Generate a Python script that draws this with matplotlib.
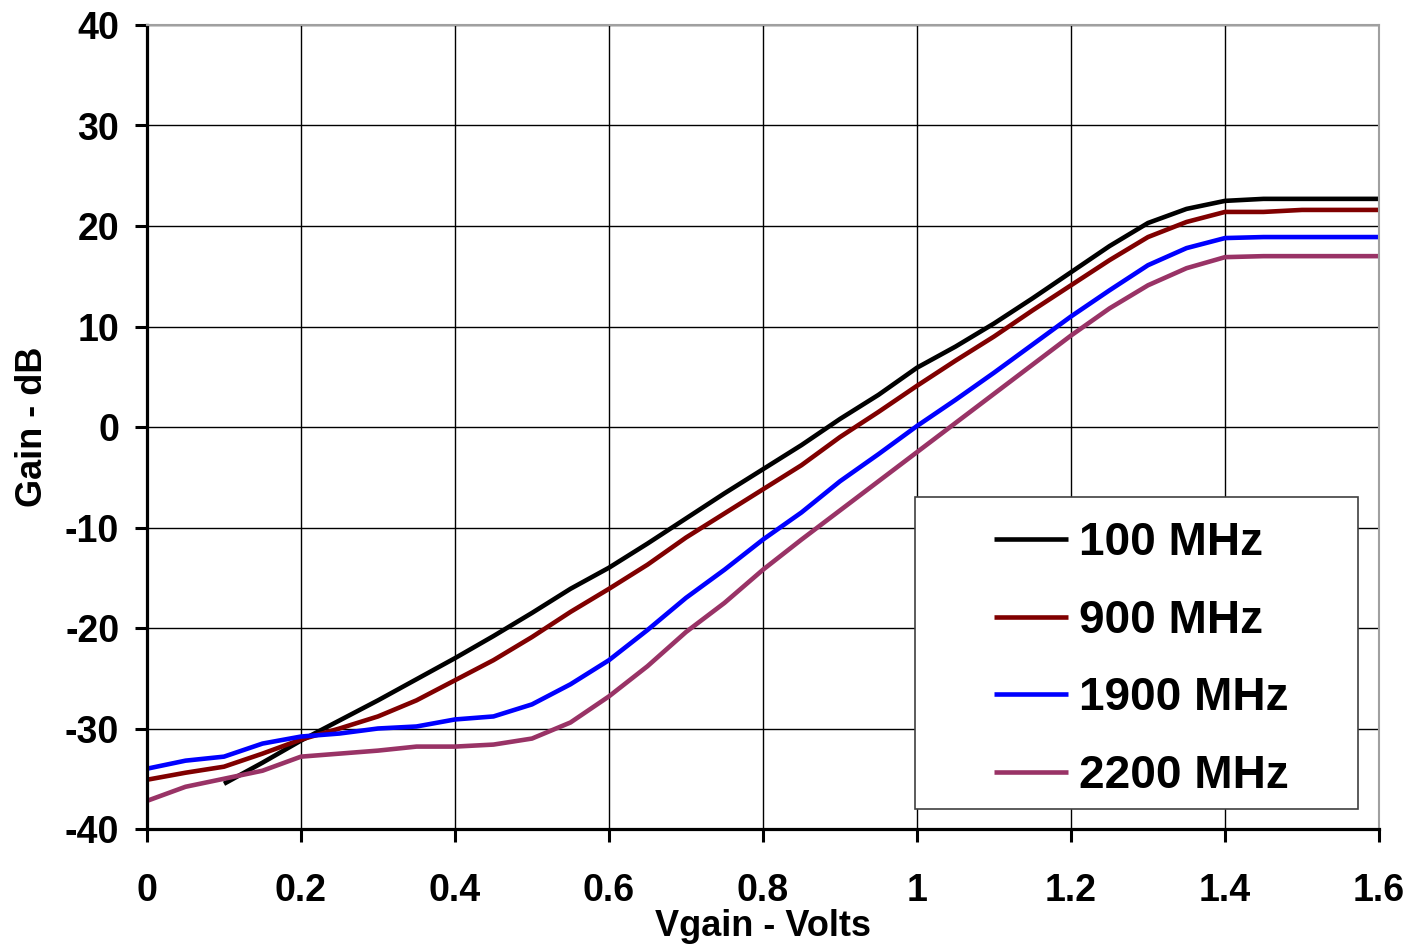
import numpy as np
import matplotlib
matplotlib.use("Agg")
import matplotlib.pyplot as plt
from matplotlib.lines import Line2D
from matplotlib.patches import Rectangle
from matplotlib.legend_handler import HandlerLine2D

plt.rcParams['font.family'] = ['Liberation Sans', 'DejaVu Sans']
plt.rcParams['font.weight'] = 'bold'
plt.rcParams['axes.unicode_minus'] = False

# Vgain (V), sampled every 0.05 V
vgain = [0.0, 0.05, 0.1, 0.15, 0.2, 0.25, 0.3, 0.35, 0.4, 0.45, 0.5, 0.55,
         0.6, 0.65, 0.7, 0.75, 0.8, 0.85, 0.9, 0.95, 1.0, 1.05, 1.1, 1.15,
         1.2, 1.25, 1.3, 1.35, 1.4, 1.45, 1.5, 1.55, 1.6]

# gain in dB (100 MHz curve starts at 0.1 V)
gain_100 = [None, None, -35.5, -33.4, -31.2, -29.2, -27.2, -25.1, -23.0, -20.8,
            -18.5, -16.1, -14.0, -11.6, -9.1, -6.6, -4.2, -1.8, 0.8, 3.2, 5.9,
            8.0, 10.3, 12.8, 15.4, 18.0, 20.3, 21.7, 22.5, 22.7, 22.7, 22.7, 22.7]
gain_900 = [-35.1, -34.4, -33.8, -32.5, -31.1, -30.0, -28.8, -27.2, -25.2, -23.2,
            -20.9, -18.4, -16.1, -13.7, -11.0, -8.6, -6.2, -3.8, -1.0, 1.5, 4.1,
            6.6, 9.0, 11.6, 14.1, 16.6, 18.9, 20.4, 21.4, 21.4, 21.6, 21.6, 21.6]
gain_1900 = [-34.0, -33.2, -32.8, -31.5, -30.8, -30.5, -30.0, -29.8, -29.1, -28.8,
             -27.6, -25.6, -23.2, -20.2, -17.0, -14.2, -11.2, -8.5, -5.4, -2.7, 0.1,
             2.7, 5.4, 8.2, 11.0, 13.6, 16.1, 17.8, 18.8, 18.9, 18.9, 18.9, 18.9]
gain_2200 = [-37.2, -35.8, -35.0, -34.2, -32.8, -32.5, -32.2, -31.8, -31.8, -31.6,
             -31.0, -29.4, -26.8, -23.8, -20.4, -17.5, -14.2, -11.2, -8.3, -5.4, -2.5,
             0.4, 3.3, 6.2, 9.1, 11.8, 14.1, 15.8, 16.9, 17.0, 17.0, 17.0, 17.0]

labels = ['100 MHz', '900 MHz', '1900 MHz', '2200 MHz']
colors = ['#000000', '#800000', '#0000FF', '#993366']

fig = plt.figure(figsize=(14.1, 9.47), dpi=100)
ax = fig.add_axes([147/1410, 1-829/947, (1379-147)/1410, (829-25)/947])

x = np.array(vgain, dtype=float)
for g, lab, c in zip([gain_100, gain_900, gain_1900, gain_2200], labels, colors):
    y = np.array([np.nan if v is None else v for v in g], dtype=float)
    ax.plot(x, y, color=c, lw=3.3, label=lab, solid_capstyle='butt')

ax.set_xlim(0, 1.6)
ax.set_ylim(-40, 40)
ax.set_xticks(np.arange(0, 1.61, 0.2))
ax.set_xticklabels(['0', '0.2', '0.4', '0.6', '0.8', '1', '1.2', '1.4', '1.6'])
ax.set_yticks(np.arange(-40, 41, 10))
ax.grid(True, color='#000000', lw=1.0)
ax.set_axisbelow(True)

for s in ['left', 'bottom']:
    ax.spines[s].set_linewidth(2.3)
    ax.spines[s].set_color('black')
for s in ['top', 'right']:
    ax.spines[s].set_linewidth(1.5)
    ax.spines[s].set_color('#a0a0a0')

ax.tick_params(axis='both', direction='out', length=9, width=2.2, labelsize=27)
ax.tick_params(axis='y', pad=11)
ax.tick_params(axis='x', pad=23)
for t in ax.get_xticklabels() + ax.get_yticklabels():
    t.set_fontweight('bold')

ax.set_xlabel('Vgain - Volts', fontsize=26, fontweight='bold')
ax.set_ylabel('Gain - dB', fontsize=26, fontweight='bold')
ax.xaxis.set_label_coords(0.5, -0.100)
ax.yaxis.set_label_coords(-0.079, 0.5)

# legend frame drawn separately so the entries can sit a bit lower in it
ax.add_patch(Rectangle((0.6234, 0.0249), 0.3596, 0.388, transform=ax.transAxes,
                       facecolor='white', edgecolor='#404040', lw=1.2, zorder=4.5))
leg = ax.legend(loc='lower left', bbox_to_anchor=(0.6250, 0.0170, 0.3580, 0.388),
                mode='expand', prop={'weight': 'bold', 'size': 33},
                handlelength=2.92, handletextpad=0.24, borderpad=0.385,
                labelspacing=0.73, frameon=False, borderaxespad=0,
                handler_map={Line2D: HandlerLine2D(xpad=1.30)})
leg.set_zorder(5)

fig.savefig('out.png', dpi=100)
